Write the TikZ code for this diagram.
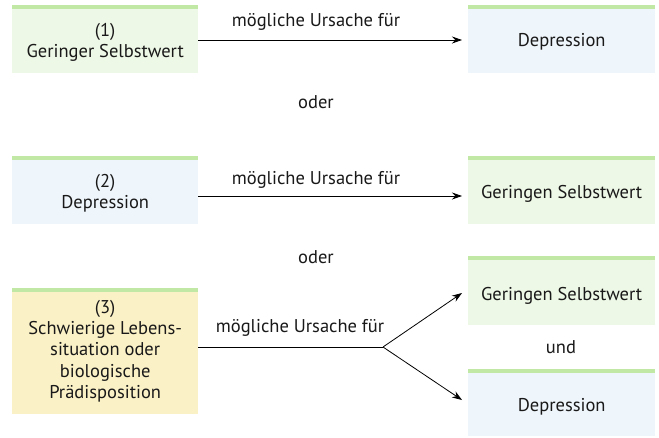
\documentclass[tikz,border=0pt]{standalone}
\usepackage{fontspec}
\setmainfont{PT Sans}
\usetikzlibrary{arrows.meta}
\definecolor{gfill}{HTML}{EEF8E6}
\definecolor{bfill}{HTML}{EEF5FB}
\definecolor{yfill}{HTML}{FBF1C6}
\definecolor{gbar}{HTML}{C2E8A6}
\tikzset{
  x=1pt,y=-1pt,
  txt/.style={font=\fontsize{18.5}{21.2}\selectfont,inner sep=0pt,text=black!90},
  conn/.style={draw,line width=0.8pt,-{Stealth[length=10pt,width=7pt]}},
  bar/.style={gbar,line width=4pt}
}
\newcommand{\tbox}[6]{% name, x, y, w, h, fill
  \fill[#6] (#2,#3) rectangle ++(#4,#5);
  \draw[bar] (#2,#3+2) -- ++(#4,0);
  \node[inner sep=0pt,minimum width=#4,minimum height=#5,anchor=north west] (#1) at (#2,#3) {};
}
\begin{document}
\begin{tikzpicture}
\useasboundingbox (0,0) rectangle (659,437);
\fill[white] (0,0) rectangle (659,437);
\tbox{a1}{12}{5}{186}{68}{gfill}
\tbox{b1}{468}{5}{187}{68}{bfill}
\tbox{a2}{12}{156}{186}{68}{bfill}
\tbox{b2}{468}{156}{187}{68}{gfill}
\tbox{a3}{12}{288}{186}{126}{yfill}
\tbox{c1}{468}{256}{187}{69}{gfill}
\tbox{c2}{468}{369}{187}{67}{bfill}
\node[txt,align=center] at (a1.center) [yshift=-3pt] {(1)\\Geringer Selbstwert};
\node[txt] at (b1.center) [yshift=-3pt] {Depression};
\node[txt,align=center] at (a2.center) [yshift=-3pt] {(2)\\Depression};
\node[txt] at (b2.center) [yshift=-4pt] {Geringen Selbstwert};
\node[txt,align=center] at (a3.center) [yshift=0pt] {(3)\\Schwierige Lebens-\\situation oder\\biologische\\Prädisposition};
\node[txt] at (c1.center) [yshift=-5pt] {Geringen Selbstwert};
\node[txt] at (c2.center) [yshift=-4pt] {Depression};
\node[txt] (l1) at (316,22) {mögliche Ursache für};
\node[txt] (l2) at (316,180) {mögliche Ursache für};
\node[txt] (l3) at (300,328) {mögliche Ursache für};
\node[txt] (o1) at (316,102) {oder};
\node[txt] (o2) at (316,257) {oder};
\node[txt] (u) at (561,347) {und};
\draw[conn] (a1.east |- 0,40) -- (462,40);
\draw[conn] (a2.east |- 0,196) -- (462,196);
\coordinate (br) at (383,347);
\draw[line width=0.8pt] (a3.east |- br) -- (br);
\draw[conn] (br) -- (462,293);
\draw[conn] (br) -- (462,400);
\end{tikzpicture}
\end{document}
